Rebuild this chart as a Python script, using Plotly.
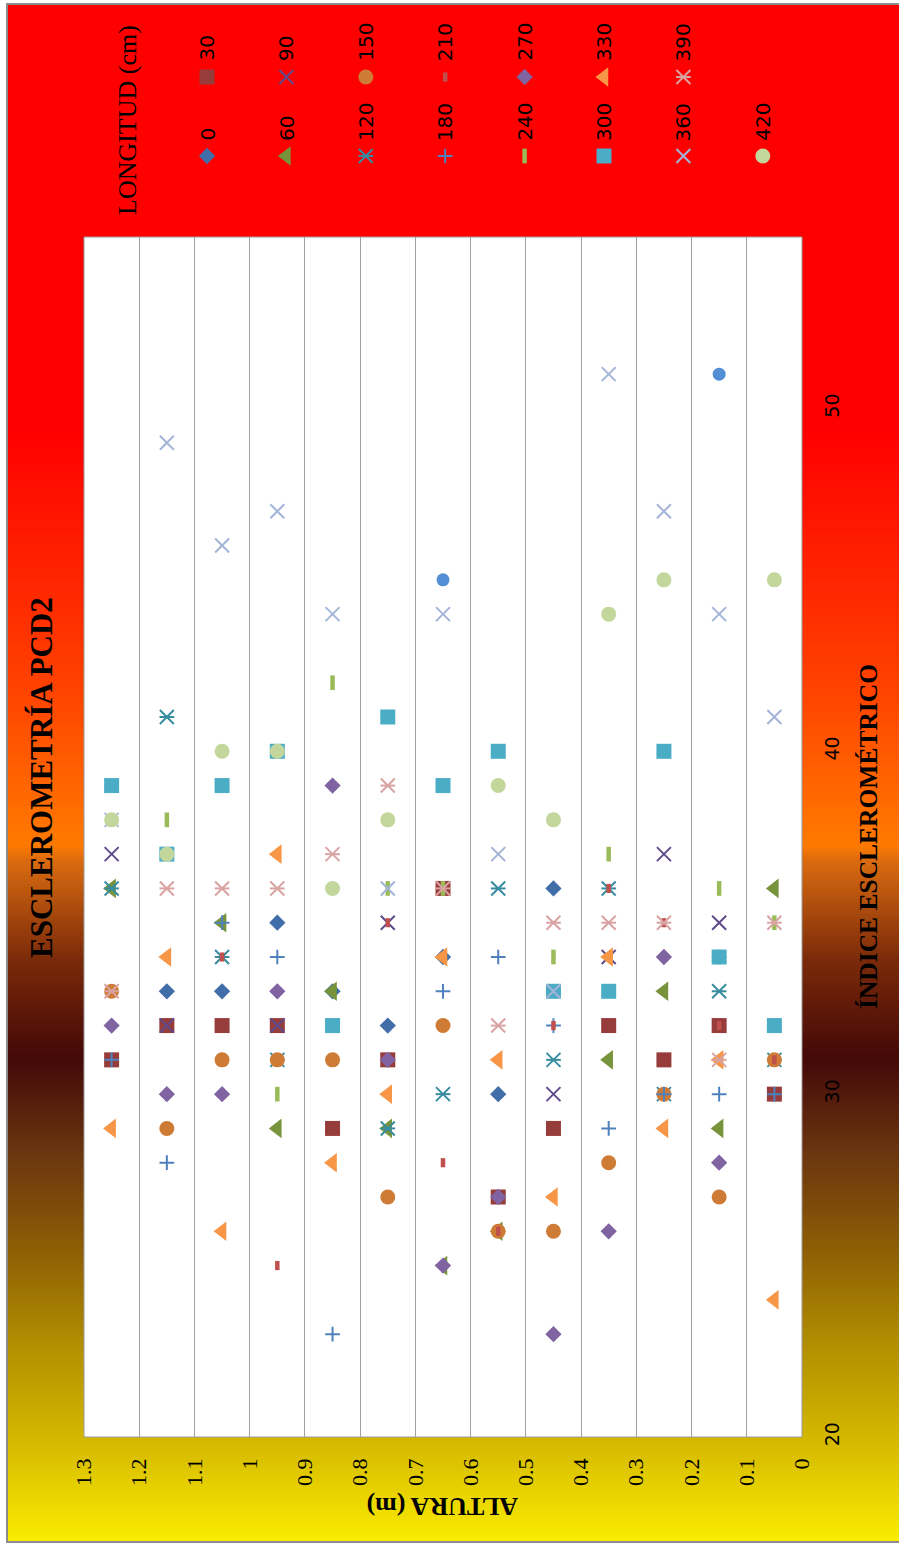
import numpy as np
import plotly.graph_objects as go

W, H = 899, 1546

# ---------------- data: ALTURA (m) and ÍNDICE ESCLEROMÉTRICO per LONGITUD (cm) ----------------
longitudes = [0, 30, 60, 90, 120, 150, 180, 210, 240, 270, 300, 330, 360, 390, 420]

alt_0 = [0.95, 0.65, 1.15, 1.05, 0.85, 0.75, 0.45, 0.55]
idx_0 = [35, 34, 33, 33, 33, 32, 36, 30]

alt_30 = [1.25, 1.15, 1.05, 0.95, 0.75, 0.65, 0.35, 0.15, 0.25, 0.05, 0.85, 0.45, 0.55]
idx_30 = [31, 32, 32, 32, 31, 36, 32, 32, 31, 30, 29, 29, 27]

alt_60 = [1.25, 1.05, 0.85, 0.05, 0.25, 0.35, 0.95, 0.75, 0.15, 0.55, 0.65]
idx_60 = [36, 35, 33, 36, 33, 31, 29, 29, 29, 26, 25]

alt_90 = [1.25, 0.25, 1.15, 0.95, 0.75, 0.15, 0.35, 0.45]
idx_90 = [37, 37, 32, 32, 35, 35, 34, 30]

alt_120 = [1.15, 1.25, 1.05, 0.95, 0.55, 0.35, 0.15, 0.45, 0.05, 0.65, 0.75, 0.25]
idx_120 = [41, 36, 34, 31, 36, 36, 33, 31, 31, 30, 29, 30]

alt_150 = [1.25, 1.05, 0.95, 0.85, 0.65, 0.05, 0.25, 1.15, 0.75, 0.35, 0.15, 0.55, 0.45]
idx_150 = [33, 31, 31, 31, 32, 31, 30, 29, 27, 28, 27, 26, 26]

alt_180 = [1.05, 0.95, 0.65, 1.25, 0.55, 0.15, 0.45, 0.25, 0.15, 0.05, 1.15, 0.35, 0.85]
idx_180 = [35, 34, 33, 31, 34, 34, 32, 30, 30, 30, 28, 29, 23]

alt_210 = [0.85, 0.75, 1.15, 1.05, 0.35, 0.25, 0.45, 0.15, 0.05, 0.65, 0.55, 0.95]
idx_210 = [39, 35, 34, 34, 36, 35, 32, 32, 31, 28, 26, 25]

alt_240 = [0.85, 1.15, 0.75, 0.65, 0.35, 0.95, 0.15, 0.05, 0.45]
idx_240 = [42, 38, 36, 36, 37, 30, 36, 35, 34]

alt_270 = [0.85, 1.25, 0.95, 0.75, 1.15, 1.05, 0.25, 0.55, 0.35, 0.15, 0.65, 0.45]
idx_270 = [39, 32, 33, 31, 30, 30, 34, 27, 26, 28, 25, 23]

alt_300 = [0.75, 0.95, 0.55, 0.25, 1.25, 1.05, 0.65, 1.15, 0.85, 0.15, 0.45, 0.35, 0.05]
idx_300 = [41, 40, 40, 40, 39, 39, 39, 37, 32, 34, 33, 33, 32]

alt_330 = [0.95, 1.15, 0.65, 0.35, 0.55, 0.75, 0.15, 1.25, 0.25, 0.85, 1.05, 0.45, 0.05]
idx_330 = [37, 34, 34, 34, 31, 30, 31, 29, 29, 28, 26, 27, 24]

alt_360 = [0.35, 1.15, 0.95, 0.25, 1.05, 0.85, 0.65, 0.15, 0.05, 0.55, 1.25, 0.75, 0.45]
idx_360 = [51, 49, 47, 47, 46, 44, 44, 44, 41, 37, 38, 36, 33]

alt_390 = [0.75, 0.85, 1.15, 1.05, 0.95, 0.65, 0.45, 0.35, 0.25, 0.05, 1.25, 0.55, 0.15]
idx_390 = [39, 37, 36, 36, 36, 36, 35, 35, 35, 35, 33, 32, 31]

alt_420 = [0.35, 0.25, 0.05, 1.05, 0.95, 0.55, 1.25, 0.75, 0.45, 1.15, 0.85]
idx_420 = [44, 45, 45, 40, 40, 39, 38, 38, 38, 37, 36]

# extra series drawn without a legend entry (blue circles)
alt_extra = [0.65, 0.15]
idx_extra = [45, 51]

altura_ticks = [round(0.1 * i, 1) for i in range(14)]
indice_ticks = [20, 30, 40, 50]

# ---------------- styles ----------------
SERIF = "Liberation Serif"
SANS = "DejaVu Sans"

# each style: list of (symbol, size, fill colour, line colour, line width)
styles = {
    0:   [("diamond", 12.5, "#416DA8", "#416DA8", 0)],
    30:  [("square", 15, "#963C3A", "#963C3A", 0)],
    60:  [("triangle-left", 17, "#77933C", "#77933C", 0)],
    90:  [("x-thin-open", 14, "#5F4B8B", "#5F4B8B", 2)],
    120: [("x-thin-open", 14, "#378CA0", "#378CA0", 2), ("line-ew-open", 10.5, "#378CA0", "#378CA0", 2)],
    150: [("circle", 15, "#CE7B36", "#CE7B36", 0)],
    180: [("cross-thin-open", 10.5, "#4F81BD", "#4F81BD", 2)],
    210: [("line-ns-open", 6.5, "#C0504D", "#C0504D", 4.5)],
    240: [("line-ns-open", 10.5, "#9BBB59", "#9BBB59", 4.5)],
    270: [("diamond", 12.5, "#8064A2", "#8064A2", 0)],
    300: [("square", 15, "#4BACC6", "#4BACC6", 0)],
    330: [("triangle-left", 17, "#F79646", "#F79646", 0)],
    360: [("x-thin-open", 14, "#A3B4D8", "#A3B4D8", 2)],
    390: [("x-thin-open", 14, "#D9A3A2", "#D9A3A2", 2), ("line-ew-open", 10.5, "#D9A3A2", "#D9A3A2", 2)],
    420: [("circle", 15, "#C3D69B", "#C3D69B", 0)],
}

series_data = {
    0: (alt_0, idx_0), 30: (alt_30, idx_30), 60: (alt_60, idx_60), 90: (alt_90, idx_90),
    120: (alt_120, idx_120), 150: (alt_150, idx_150), 180: (alt_180, idx_180),
    210: (alt_210, idx_210), 240: (alt_240, idx_240), 270: (alt_270, idx_270),
    300: (alt_300, idx_300), 330: (alt_330, idx_330), 360: (alt_360, idx_360),
    390: (alt_390, idx_390), 420: (alt_420, idx_420),
}

fig = go.Figure()

for L in longitudes:
    xs, ys = series_data[L]
    for (sym, size, fill, lc, lw) in styles[L]:
        fig.add_trace(go.Scatter(
            x=xs, y=ys, mode="markers", name=str(L), showlegend=False,
            marker=dict(symbol=sym, size=size, color=fill, line=dict(color=lc, width=lw)),
            xaxis="x", yaxis="y",
        ))

fig.add_trace(go.Scatter(
    x=alt_extra, y=idx_extra, mode="markers", showlegend=False,
    marker=dict(symbol="circle", size=13, color="#548ED4", line=dict(width=0)),
    xaxis="x", yaxis="y",
))

# ---------------- rotated legend (markers on a full-page overlay axis) ----------------
leg_x0, leg_dx = 207, 79.4
annotations = []
for i, L in enumerate(longitudes):
    col, row = i // 2, i % 2
    px = leg_x0 + leg_dx * col
    my = 156 if row == 0 else 77
    ly = 143 if row == 0 else 63
    for (sym, size, fill, lc, lw) in styles[L]:
        fig.add_trace(go.Scatter(
            x=[px], y=[my], mode="markers", showlegend=False, hoverinfo="skip",
            marker=dict(symbol=sym, size=size, color=fill, line=dict(color=lc, width=lw)),
            xaxis="x2", yaxis="y2",
        ))
    annotations.append(dict(
        x=px / W, y=1 - ly / H, xref="paper", yref="paper", text=str(L),
        textangle=-90, xanchor="center", yanchor="bottom", showarrow=False,
        font=dict(family=SANS, size=20, color="black"),
    ))

annotations.append(dict(
    x=127 / W, y=1 - 120 / H, xref="paper", yref="paper", text="LONGITUD (cm)",
    textangle=-90, xanchor="center", yanchor="middle", showarrow=False,
    font=dict(family=SERIF, size=26, color="black"),
))
annotations.append(dict(
    x=41 / W, y=1 - 778 / H, xref="paper", yref="paper", text="<b>ESCLEROMETRÍA PCD2</b>",
    textangle=-90, xanchor="center", yanchor="middle", showarrow=False,
    font=dict(family=SERIF, size=31, color="black"),
))
annotations.append(dict(
    x=868 / W, y=1 - 837 / H, xref="paper", yref="paper", text="<b>ÍNDICE ESCLEROMÉTRICO</b>",
    textangle=-90, xanchor="center", yanchor="middle", showarrow=False,
    font=dict(family=SERIF, size=25.5, color="black"),
))
annotations.append(dict(
    x=443 / W, y=1 - 1507 / H, xref="paper", yref="paper", text="<b>ALTURA (m)</b>",
    textangle=180, xanchor="center", yanchor="middle", showarrow=False,
    font=dict(family=SERIF, size=26, color="black"),
))

# ---------------- background gradient ----------------
stops_y = [0, 430, 600, 700, 845, 862, 960, 1058, 1150, 1250, 1340, 1440, 1546]
stops_c = ["#FF0000", "#FF0000", "#FF2A00", "#FF4600", "#FF7A00", "#D86A10", "#7A2A0A",
           "#440808", "#6A3410", "#8E5E05", "#B08C00", "#D4B800", "#FCEE00"]


def hex2rgb(h):
    h = h.lstrip("#")
    return [int(h[k:k + 2], 16) for k in (0, 2, 4)]


rgb = np.array([hex2rgb(c) for c in stops_c], dtype=float)
shapes = []
step = 3
top, bottom, left = 5, 1542, 8
for y in range(top, bottom, step):
    yc = y + step / 2
    col = [int(round(np.interp(yc, stops_y, rgb[:, k]))) for k in range(3)]
    shapes.append(dict(
        type="rect", xref="paper", yref="paper", layer="below",
        x0=left / W, x1=1, y0=1 - min(y + step + 0.6, bottom) / H, y1=1 - y / H,
        fillcolor=f"rgb({col[0]},{col[1]},{col[2]})", line=dict(width=0),
    ))
# outer frame
shapes.append(dict(type="rect", xref="paper", yref="paper", layer="below",
                   x0=(left - 1) / W, x1=1.01, y0=1 - bottom / H, y1=1 - (top - 1) / H,
                   fillcolor="rgba(0,0,0,0)", line=dict(color="#8C8C8C", width=2)))
# plot area
PL, PR, PT, PB = 84, 802, 237, 1437
shapes.append(dict(type="rect", xref="paper", yref="paper", layer="below",
                   x0=PL / W, x1=PR / W, y0=1 - PB / H, y1=1 - PT / H,
                   fillcolor="white", line=dict(color="#9A9A9A", width=1)))

fig.update_layout(
    width=W, height=H, autosize=False,
    margin=dict(l=0, r=0, t=0, b=0, pad=0),
    paper_bgcolor="white", plot_bgcolor="rgba(0,0,0,0)",
    showlegend=False,
    shapes=shapes, annotations=annotations,
    xaxis=dict(
        domain=[PL / W, PR / W], range=[1.3, 0], anchor="y",
        tickmode="array", tickvals=altura_ticks, ticktext=[f"{v:g}" for v in altura_ticks],
        tickangle=-90, tickfont=dict(family=SERIF, size=22, color="black"),
        showgrid=True, gridcolor="#A0A0A0", gridwidth=1, zeroline=False,
        showline=False, ticks="", ticklabelstandoff=16, automargin=False,
    ),
    yaxis=dict(
        domain=[1 - PB / H, 1 - PT / H], range=[20, 55], anchor="x", side="right",
        tickmode="array", tickvals=indice_ticks, ticktext=[str(v) for v in indice_ticks],
        tickangle=-90, tickfont=dict(family=SANS, size=19, color="black"),
        showgrid=False, zeroline=False, showline=False, ticks="",
        ticklabelstandoff=17, automargin=False,
    ),
    xaxis2=dict(domain=[0, 1], range=[0, W], anchor="y2", visible=False, fixedrange=True),
    yaxis2=dict(domain=[0, 1], range=[H, 0], anchor="x2", visible=False, fixedrange=True),
)

fig.write_html("out.html")
